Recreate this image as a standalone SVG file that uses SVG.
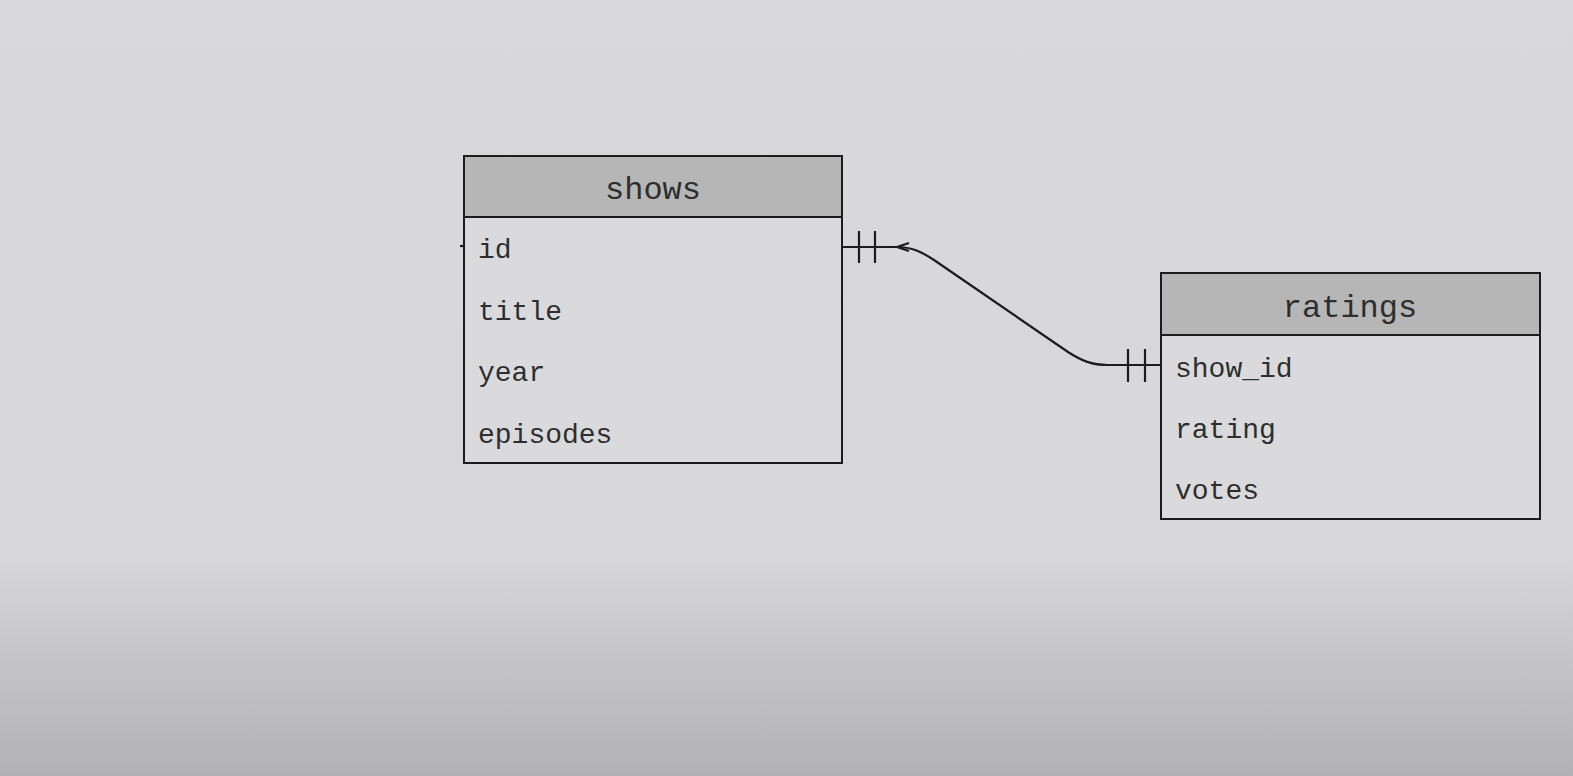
<svg xmlns="http://www.w3.org/2000/svg" width="1573" height="776" viewBox="0 0 1573 776">
<defs>
<linearGradient id="bg" x1="0" y1="0" x2="0" y2="1">
<stop offset="0" stop-color="#d9d9db"/>
<stop offset="0.72" stop-color="#d7d7d9"/>
<stop offset="0.85" stop-color="#c5c5c7"/>
<stop offset="1" stop-color="#b2b2b4"/>
</linearGradient>
<style>
.box{fill:#dadadc;stroke:#1c1c1c;stroke-width:2}
.hdr{fill:#b6b6b6;stroke:#1c1c1c;stroke-width:2}
.title{font-family:"Liberation Mono","DejaVu Sans Mono",monospace;font-size:32px;fill:#2e2e2e;text-anchor:middle}
.field{font-family:"Liberation Mono","DejaVu Sans Mono",monospace;font-size:28px;fill:#2e2e2e}
.ln{fill:none;stroke:#1c1c1c;stroke-width:2.2}
</style>
</defs>
<rect x="0" y="0" width="1573" height="776" fill="url(#bg)"/>
<g id="connectors">
<path class="ln" d="M841 247 L897 247 C912 247 922 252 934 260 L1068 352 C1082 361 1092 365 1108 365 L1161 365"/>
<path class="ln" d="M909 243 L897 247 L909 251"/>
<line class="ln" x1="859" y1="231" x2="859" y2="263"/>
<line class="ln" x1="875" y1="231" x2="875" y2="263"/>
<line class="ln" x1="1128" y1="349" x2="1128" y2="382"/>
<line class="ln" x1="1145" y1="349" x2="1145" y2="382"/>
<line class="ln" x1="460" y1="246" x2="464" y2="246" stroke-width="1.5"/>
</g>
<g id="shows">
<rect class="box" x="464" y="156" width="378" height="307"/>
<rect class="hdr" x="464" y="156" width="378" height="61"/>
<text class="title" x="653" y="199">shows</text>
<text class="field" x="478" y="258">id</text>
<text class="field" x="478" y="320">title</text>
<text class="field" x="478" y="381">year</text>
<text class="field" x="478" y="443">episodes</text>
</g>
<g id="ratings">
<rect class="box" x="1161" y="273" width="379" height="246"/>
<rect class="hdr" x="1161" y="273" width="379" height="62"/>
<text class="title" x="1350" y="317">ratings</text>
<text class="field" x="1175" y="377">show_id</text>
<text class="field" x="1175" y="438">rating</text>
<text class="field" x="1175" y="499">votes</text>
</g>
</svg>
